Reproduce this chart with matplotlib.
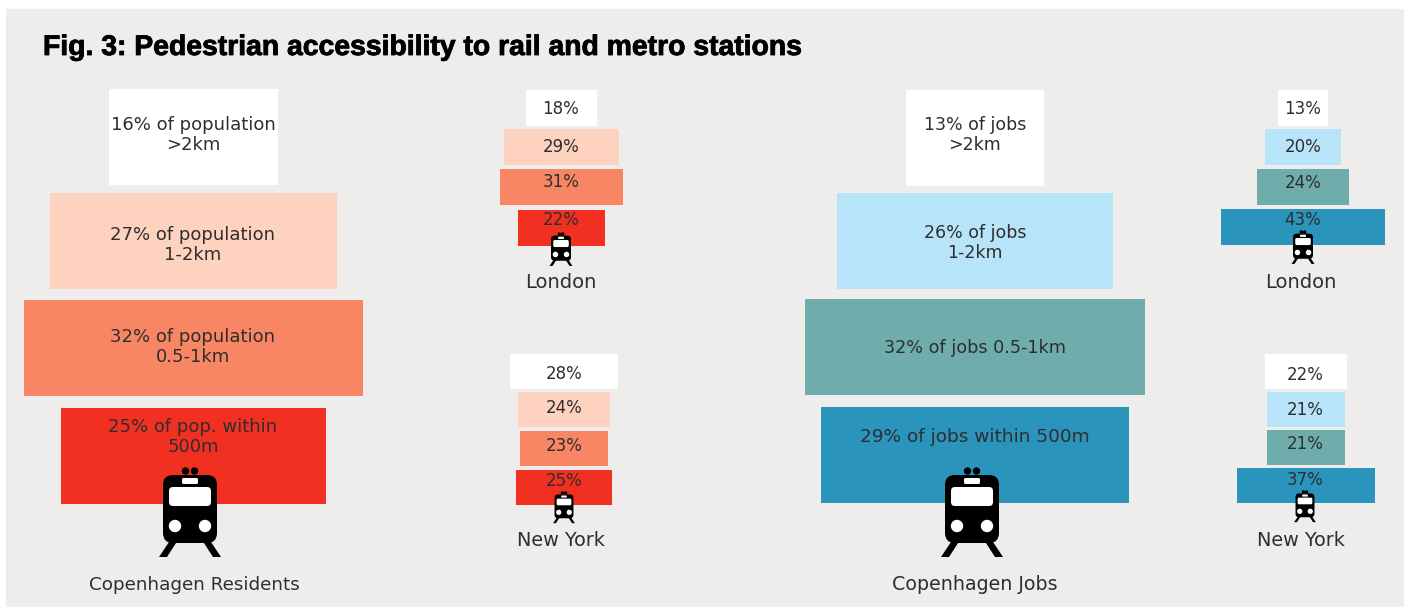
import matplotlib.pyplot as plt
import matplotlib.patheffects as pe
from matplotlib.patches import Circle, FancyBboxPatch, Polygon, Rectangle

# Share of population / jobs by walking distance, farthest band first
cph_residents = [16, 27, 32, 25]
london_residents = [18, 29, 31, 22]
newyork_residents = [28, 24, 23, 25]
cph_jobs = [13, 26, 32, 29]
london_jobs = [13, 20, 24, 43]
newyork_jobs = [22, 21, 21, 37]

residents_labels = ['16% of population\n>2km', '27% of population\n1-2km',
                    '32% of population\n0.5-1km', '25% of pop. within\n500m']
jobs_labels = ['13% of jobs\n>2km', '26% of jobs\n1-2km',
               '32% of jobs 0.5-1km', '29% of jobs within 500m']

red_colors = ['#FFFFFF', '#FDD2BF', '#F88665', '#F23022']
blue_colors = ['#FFFFFF', '#B8E4FA', '#6FADAD', '#2A94BC']
TEXT = '#2E2E2E'

plt.rcParams['font.family'] = 'DejaVu Sans'

fig = plt.figure(figsize=(14.08, 6.07), dpi=100)
ax = fig.add_axes([0, 0, 1, 1])
ax.set_xlim(0, 1408)
ax.set_ylim(607, 0)
ax.axis('off')

# grey panel
ax.add_patch(Rectangle((6, 9), 1397, 598, color='#EEEDEB', zorder=0))


def draw_train(cx, top, s):
    # icon units are pixels at full size, measured from the centre and top
    black = '#000000'
    for dx in (-4.5, 4.5):
        ax.add_patch(Circle((cx + dx * s, top + 3 * s), 3 * s, color=black, zorder=4))
    ax.add_patch(FancyBboxPatch((cx - 19 * s, top + 15 * s), 38 * s, 52 * s,
                                boxstyle='round,pad=%f,rounding_size=%f' % (8 * s, 10 * s),
                                fc=black, ec='none', zorder=4))
    ax.add_patch(FancyBboxPatch((cx - 8 * s, top + 10 * s), 16 * s, 6 * s,
                                boxstyle='round,pad=0,rounding_size=%f' % (1.5 * s),
                                fc='white', ec='none', zorder=5))
    ax.add_patch(FancyBboxPatch((cx - 21 * s, top + 19 * s), 42 * s, 19 * s,
                                boxstyle='round,pad=0,rounding_size=%f' % (4 * s),
                                fc='white', ec='none', zorder=5))
    for side in (-1, 1):
        ax.add_patch(Circle((cx + side * 15 * s, top + 58 * s), 5.5 * s, color='white', zorder=5))
        ax.add_patch(Polygon([(cx + side * 17 * s, top + 68 * s),
                              (cx + side * 12 * s, top + 72 * s),
                              (cx + side * 23 * s, top + 89 * s),
                              (cx + side * 31 * s, top + 89 * s)],
                             color=black, lw=0, zorder=4))


def draw_pyramid(values, center, tops, height, scale, colors):
    widths = [v * scale for v in values]
    lefts = [center - w / 2 for w in widths]
    ax.barh(tops, widths, height=height, left=lefts, align='edge', color=colors,
            linewidth=0, zorder=2)


def percent_labels(values, x, ys):
    for y, v in zip(ys, values):
        ax.text(x, y, str(v) + '%', ha='center', va='center', fontsize=12, color=TEXT, zorder=6)


# Copenhagen residents
draw_pyramid(cph_residents, 193.5, [89, 193, 300, 408], 96, 10.6, red_colors)
for y, lab in zip([135, 245, 347, 437], residents_labels):
    ax.text(193, y, lab, ha='center', va='center', fontsize=13, color=TEXT,
            linespacing=1.15, zorder=6)
draw_train(190, 468, 1)
ax.text(194, 585, 'Copenhagen Residents', ha='center', va='center', fontsize=13.2, color=TEXT)

# London residents
draw_pyramid(london_residents, 561.5, [90, 129, 169, 210], 36, 3.95, red_colors)
percent_labels(london_residents, 561, [109, 147, 182, 220])
draw_train(561, 233, 0.37)
ax.text(561, 282, 'London', ha='center', va='center', fontsize=14, color=TEXT)

# New York residents
draw_pyramid(newyork_residents, 564, [354, 392, 431, 470], 35, 3.85, red_colors)
percent_labels(newyork_residents, 564, [374, 408, 446, 481])
draw_train(564, 492, 0.35)
ax.text(561, 541, 'New York', ha='center', va='center', fontsize=13.9, color=TEXT)

# Copenhagen jobs
draw_pyramid(cph_jobs, 975, [90, 193, 299, 407], 96, 10.6, blue_colors)
for y, lab, size in zip([135, 243, 348, 437], jobs_labels, [12.5, 12.5, 12.7, 13.3]):
    ax.text(975, y, lab, ha='center', va='center', fontsize=size, color=TEXT,
            linespacing=1.15, zorder=6)
draw_train(972, 468, 1)
ax.text(975, 584, 'Copenhagen Jobs', ha='center', va='center', fontsize=13.7, color=TEXT)

# London jobs
draw_pyramid(london_jobs, 1303, [90, 129, 169, 209], 36, 3.8, blue_colors)
percent_labels(london_jobs, 1303, [109, 147, 183, 220])
draw_train(1303, 231, 0.37)
ax.text(1301, 282, 'London', ha='center', va='center', fontsize=14, color=TEXT)

# New York jobs
draw_pyramid(newyork_jobs, 1306, [354, 392, 430, 468], 35, 3.75, blue_colors)
percent_labels(newyork_jobs, 1305, [375, 410, 444, 480])
draw_train(1305, 491, 0.35)
ax.text(1301, 541, 'New York', ha='center', va='center', fontsize=13.9, color=TEXT)

title = ax.text(43, 48, 'Fig. 3: Pedestrian accessibility to rail and metro stations',
                ha='left', va='center', fontsize=20.4, fontweight='bold', color='black',
                family='Liberation Sans')
title.set_path_effects([pe.withStroke(linewidth=0.6, foreground='black')])

fig.savefig('out.png', dpi=100)
